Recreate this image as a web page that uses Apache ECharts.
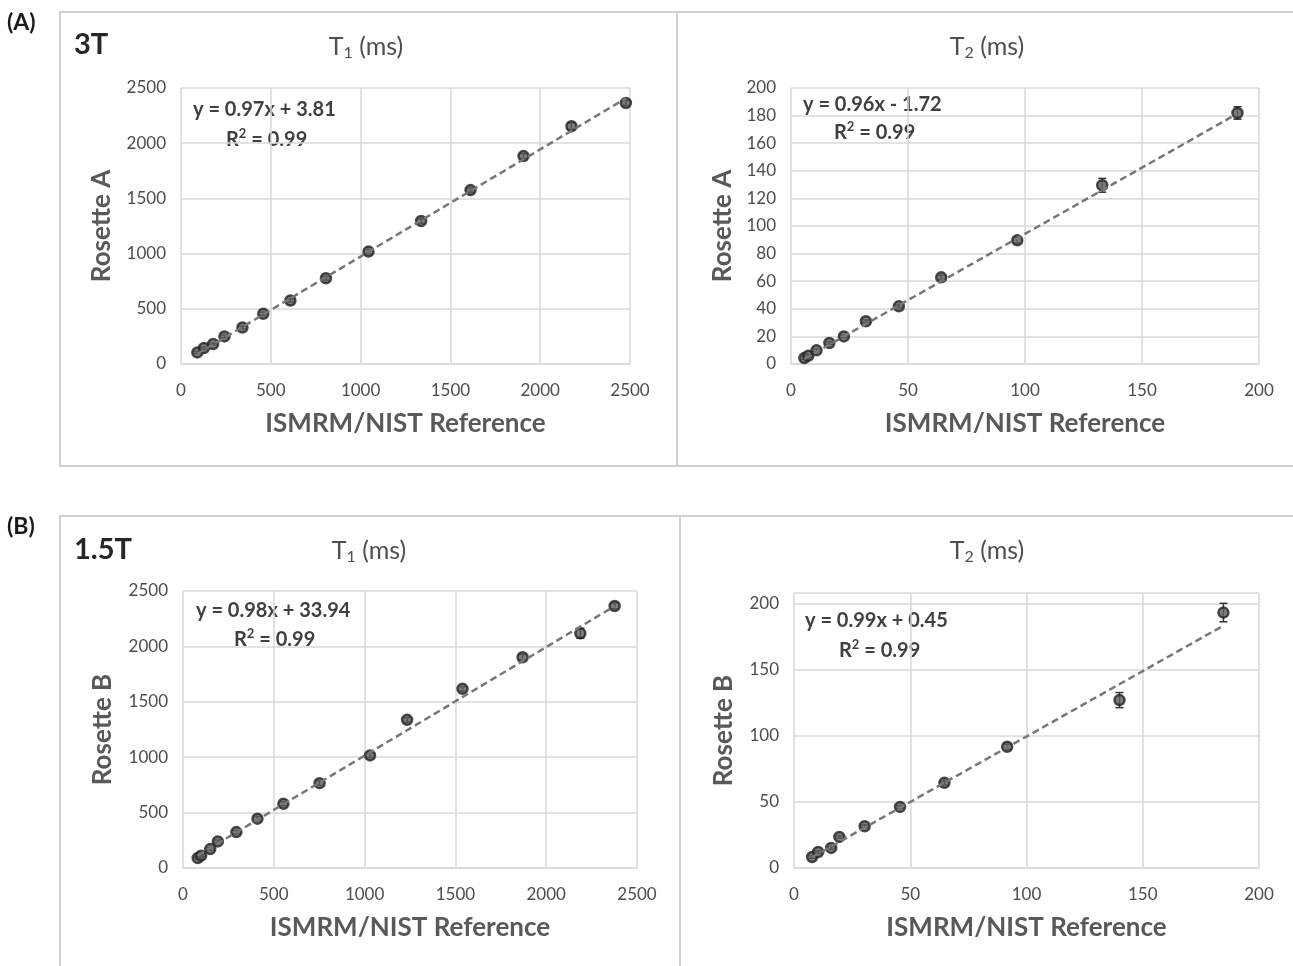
<!DOCTYPE html>
<html>
<head>
<meta charset="utf-8">
<script src="https://cdn.jsdelivr.net/npm/echarts@6/dist/echarts.min.js"></script>
<style>
html, body { margin: 0; padding: 0; background: #fff; }
#chart { width: 1293px; height: 966px; }
</style>
</head>
<body>
<div id="chart"></div>
<script>
// (A) 3T, T1
const refT1A = [91, 128, 179, 242, 342, 458, 609, 807, 1044, 1337, 1612, 1907, 2174, 2477]
const rosT1A = [105, 145, 181, 250, 331, 455, 575, 777, 1018, 1295, 1575, 1883, 2154, 2364]
const errT1A = [10, 10, 10, 12, 12, 15, 15, 18, 20, 20, 20, 22, 30, 22]
// (A) 3T, T2
const refT2A = [5.7, 7.4, 10.9, 16.4, 22.6, 32, 46.1, 64.2, 96.7, 133, 190.8]
const rosT2A = [4.3, 6, 9.9, 15.2, 20, 31, 41.8, 62.8, 89.6, 129.5, 181.9]
const errT2A = [1, 1, 1, 1, 1, 1, 1, 1.5, 2, 5, 4.5]
// (B) 1.5T, T1
const refT1B = [81, 100, 150, 192, 294, 410, 553, 752, 1030, 1234, 1539, 1870, 2188, 2377]
const rosT1B = [90, 111, 171, 240, 324, 445, 580, 766, 1016, 1337, 1617, 1902, 2118, 2365]
const errT1B = [10, 10, 12, 12, 15, 18, 18, 20, 20, 20, 20, 25, 45, 25]
// (B) 1.5T, T2
const refT2B = [7.8, 10.4, 16, 19.5, 30.4, 45.6, 64.7, 91.7, 140, 184.7]
const rosT2B = [8.3, 12.1, 15.2, 23.5, 31.6, 46.2, 64.4, 91.7, 127, 193.2]
const errT2B = [1, 1, 1, 1, 1, 1, 1.5, 2, 5.7, 7]

// trendline fits, as printed on the chart
const fits = [
  { m: 0.97, b: 3.81, eq: 'y = 0.97x + 3.81' },
  { m: 0.96, b: -1.72, eq: 'y = 0.96x - 1.72' },
  { m: 0.98, b: 33.94, eq: 'y = 0.98x + 33.94' },
  { m: 0.99, b: 0.45, eq: 'y = 0.99x + 0.45' }
]
const r2Text = '0.99'

const FONT = 'Lato'
const GREY = '#595959'
const TICK = '#4d4d4d'
const EQ = '#404040'
const GRID_LINE = '#d9d9d9'

const myChart = echarts.init(document.getElementById('chart'))

function xAxisOf (idx, max, interval) {
  return {
    gridIndex: idx,
    type: 'value',
    min: 0,
    max: max,
    interval: interval,
    name: 'ISMRM/NIST Reference',
    nameLocation: 'middle',
    nameGap: 47,
    nameTextStyle: { fontFamily: FONT, fontSize: 26, fontWeight: 'bold', color: GREY },
    axisLine: { show: true, lineStyle: { color: GRID_LINE, width: 1.5 } },
    axisTick: { show: false },
    axisLabel: { fontFamily: FONT, fontSize: 17, color: TICK, margin: 18, formatter: v => String(v) },
    splitLine: { show: true, lineStyle: { color: GRID_LINE, width: 1.5 } }
  }
}

function yAxisOf (idx, name, max, interval, gap) {
  return {
    gridIndex: idx,
    type: 'value',
    min: 0,
    max: max,
    interval: interval,
    name: name,
    nameLocation: 'middle',
    nameRotate: 90,
    nameGap: gap,
    nameTextStyle: { fontFamily: FONT, fontSize: 26, fontWeight: 'bold', color: GREY },
    axisLine: { show: false },
    axisTick: { show: false },
    axisLabel: {
      fontFamily: FONT,
      fontSize: 17,
      color: TICK,
      margin: 15,
      showMaxLabel: max % interval === 0,
      formatter: v => String(v)
    },
    splitLine: { show: true, lineStyle: { color: GRID_LINE, width: 1.5 } }
  }
}

function pointSeries (idx, xs, ys) {
  return {
    type: 'scatter',
    xAxisIndex: idx,
    yAxisIndex: idx,
    data: xs.map((x, i) => [x, ys[i]]),
    symbol: 'circle',
    symbolSize: 10,
    itemStyle: { color: '#5e5e5e', borderColor: '#222', borderWidth: 2.5 },
    z: 3
  }
}

function errorSeries (idx, xs, ys, es) {
  return {
    type: 'custom',
    xAxisIndex: idx,
    yAxisIndex: idx,
    data: xs.map((x, i) => [x, ys[i] - es[i], ys[i] + es[i]]),
    renderItem: function (params, api) {
      const lo = api.coord([api.value(0), api.value(1)])
      const hi = api.coord([api.value(0), api.value(2)])
      const w = 4
      const st = { stroke: '#333', lineWidth: 1.5 }
      return {
        type: 'group',
        children: [
          { type: 'line', shape: { x1: lo[0], y1: lo[1], x2: hi[0], y2: hi[1] }, style: st },
          { type: 'line', shape: { x1: lo[0] - w, y1: lo[1], x2: lo[0] + w, y2: lo[1] }, style: st },
          { type: 'line', shape: { x1: hi[0] - w, y1: hi[1], x2: hi[0] + w, y2: hi[1] }, style: st }
        ]
      }
    },
    z: 2,
    silent: true
  }
}

function trendSeries (idx, xs, fit) {
  const x0 = Math.min.apply(null, xs)
  const x1 = Math.max.apply(null, xs)
  return {
    type: 'line',
    xAxisIndex: idx,
    yAxisIndex: idx,
    data: [[x0, fit.m * x0 + fit.b], [x1, fit.m * x1 + fit.b]],
    showSymbol: false,
    lineStyle: { color: '#777', width: 2.5, type: [7, 4] },
    z: 4,
    silent: true
  }
}

function label (x, y, text, size, color, weight, align) {
  return {
    type: 'text',
    x: x,
    y: y,
    style: {
      text: text,
      fill: color,
      font: weight + ' ' + size + 'px ' + FONT,
      textAlign: align || 'left',
      textVerticalAlign: 'middle'
    }
  }
}

// rich-text segments in graphic elements take zrender style names (fill, not color)
function title (x, y, sub) {
  return {
    type: 'text',
    x: x,
    y: y,
    style: {
      text: '{a|T}{s|' + sub + '}{a| (ms)}',
      textAlign: 'center',
      textVerticalAlign: 'middle',
      rich: {
        a: { fontFamily: FONT, fontSize: 25, fill: '#4f4f4f' },
        s: { fontFamily: FONT, fontSize: 16, fill: '#4f4f4f', padding: [12, 0, 0, 0] }
      }
    }
  }
}

function r2 (x, y) {
  return {
    type: 'text',
    x: x,
    y: y,
    style: {
      text: '{a|R}{s|2}{a| = ' + r2Text + '}',
      textAlign: 'left',
      textVerticalAlign: 'middle',
      rich: {
        a: { fontFamily: FONT, fontSize: 20, fontWeight: 'bold', fill: EQ },
        s: { fontFamily: FONT, fontSize: 13, fontWeight: 'bold', fill: EQ, padding: [0, 0, 12, 0] }
      }
    }
  }
}

const frame = { stroke: '#d0d0d0', lineWidth: 2 }

const option = {
  animation: false,
  backgroundColor: '#fff',
  grid: [
    { left: 181, top: 88, width: 449, height: 276 },
    { left: 791, top: 88, width: 468, height: 276 },
    { left: 183, top: 591, width: 454, height: 277 },
    { left: 794, top: 593, width: 465, height: 275 }
  ],
  xAxis: [
    xAxisOf(0, 2500, 500),
    xAxisOf(1, 200, 50),
    xAxisOf(2, 2500, 500),
    xAxisOf(3, 200, 50)
  ],
  yAxis: [
    yAxisOf(0, 'Rosette A', 2500, 500, 66),
    yAxisOf(1, 'Rosette A', 200, 20, 55),
    yAxisOf(2, 'Rosette B', 2500, 500, 67),
    yAxisOf(3, 'Rosette B', 208, 50, 57)
  ],
  graphic: [
    // panel frames
    { type: 'polyline', shape: { points: [[1293, 12], [60, 12], [60, 466], [1293, 466]] }, style: frame },
    { type: 'line', shape: { x1: 677, y1: 12, x2: 677, y2: 466 }, style: frame },
    { type: 'polyline', shape: { points: [[1293, 516], [60, 516], [60, 966]] }, style: frame },
    { type: 'line', shape: { x1: 680, y1: 516, x2: 680, y2: 966 }, style: frame },
    label(7, 23, '(A)', 23, '#1a1a1a', 'bold'),
    label(7, 527, '(B)', 23, '#1a1a1a', 'bold'),
    label(74, 45, '3T', 29, '#262626', 'bold'),
    label(74, 550, '1.5T', 29, '#262626', 'bold'),
    title(366, 47, '1'),
    title(987, 47, '2'),
    title(369, 551, '1'),
    title(987, 551, '2'),
    label(193, 110, fits[0].eq, 20, EQ, 'bold'),
    r2(226, 140),
    label(803, 105, fits[1].eq, 20, EQ, 'bold'),
    r2(834, 133),
    label(196, 611, fits[2].eq, 20, EQ, 'bold'),
    r2(234, 640),
    label(805, 621, fits[3].eq, 20, EQ, 'bold'),
    r2(839, 651)
  ],
  series: [
    errorSeries(0, refT1A, rosT1A, errT1A),
    pointSeries(0, refT1A, rosT1A),
    trendSeries(0, refT1A, fits[0]),
    errorSeries(1, refT2A, rosT2A, errT2A),
    pointSeries(1, refT2A, rosT2A),
    trendSeries(1, refT2A, fits[1]),
    errorSeries(2, refT1B, rosT1B, errT1B),
    pointSeries(2, refT1B, rosT1B),
    trendSeries(2, refT1B, fits[2]),
    errorSeries(3, refT2B, rosT2B, errT2B),
    pointSeries(3, refT2B, rosT2B),
    trendSeries(3, refT2B, fits[3])
  ]
}

myChart.setOption(option)
</script>
</body>
</html>
